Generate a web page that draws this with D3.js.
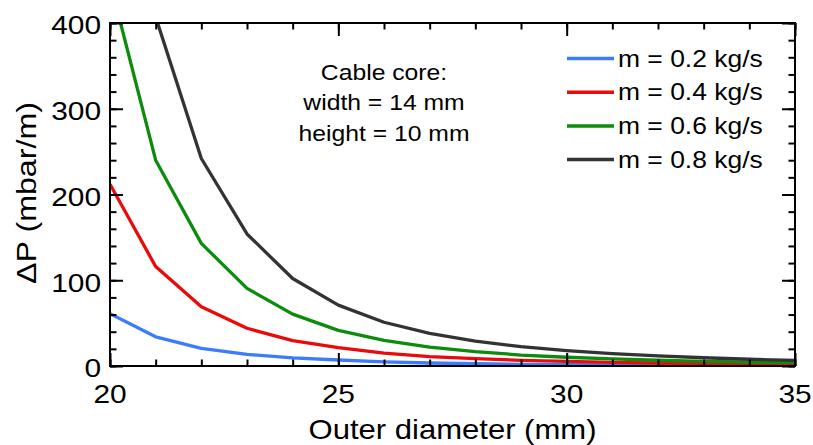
<!DOCTYPE html>
<html>
<head>
<meta charset="utf-8">
<script src="https://cdn.jsdelivr.net/npm/d3@7"></script>
<style>
  html, body { margin: 0; padding: 0; background: #fff; }
  svg { display: block; }
  text { font-family: "Liberation Sans", Arial, Helvetica, sans-serif; fill: #000; }
</style>
</head>
<body>
<svg id="chart" width="813" height="445"></svg>
<script>
// ---- Data ----
const diameters = [20, 21, 22, 23, 24, 25, 26, 27, 28, 29, 30, 31, 32, 33, 34, 35];
const dp_m02 = [61, 34, 20.5, 13.5, 9.5, 7, 4.8, 3.5, 2.6, 2.0, 1.6, 1.3, 1.05, 0.85, 0.7, 0.6];
const dp_m04 = [212, 116, 69, 44, 29.5, 21.5, 15, 11, 8.5, 6.6, 5.3, 4.3, 3.5, 2.9, 2.4, 2.0];
const dp_m06 = [448, 240, 143, 90.5, 60.5, 41.5, 30, 22, 16.7, 12.8, 10.2, 8.2, 6.7, 5.5, 4.6, 3.9];
const dp_m08 = [738, 407, 242, 154, 102, 71, 51, 38, 29, 22.5, 18, 14.5, 11.8, 9.6, 7.9, 6.5];
const seriesLabels = ["m = 0.2 kg/s", "m = 0.4 kg/s", "m = 0.6 kg/s", "m = 0.8 kg/s"];
const seriesColors = ["#3b7cff", "#ea0a0a", "#0c8c0c", "#333333"];
const xTickValues = [20, 25, 30, 35];
const yTickValues = [0, 100, 200, 300, 400];
const noteLines = ["Cable core:", "width = 14 mm", "height = 10 mm"];
const xTitle = "Outer diameter (mm)";
const yTitle = "\u0394P (mbar/m)";

const seriesValues = [dp_m02, dp_m04, dp_m06, dp_m08];

// ---- Layout ----
const L = 110, R = 795, T = 23, B = 366;
const SX = 1.15; // horizontal stretch of the reference's font
const svg = d3.select("#chart");

const x = d3.scaleLinear().domain([20, 35]).range([L, R]);
const y = d3.scaleLinear().domain([0, 400]).range([B, T]);

function stext(parent, px, py, str, size, anchor, rot) {
  const g = parent.append("g").attr("transform", `translate(${px},${py})` + (rot ? ` rotate(${rot})` : ""));
  g.append("text")
    .attr("transform", `scale(${SX},1)`)
    .attr("text-anchor", anchor)
    .style("font-size", size + "px")
    .text(str);
  return g;
}

// clip
svg.append("defs").append("clipPath").attr("id", "clip")
  .append("rect").attr("x", L).attr("y", T).attr("width", R - L).attr("height", B - T);

// data lines (drawn in legend order)
const line = d3.line().x((d, i) => x(diameters[i])).y(d => y(d));
const lines = svg.append("g").attr("clip-path", "url(#clip)");
seriesValues.forEach((vals, k) => {
  lines.append("path")
    .datum(vals)
    .attr("d", line)
    .attr("fill", "none")
    .attr("stroke", seriesColors[k])
    .attr("stroke-width", 3.3)
    .attr("stroke-linejoin", "round");
});

// axes with inward ticks
function styleAxis(g) {
  g.select(".domain").remove();
  g.selectAll(".tick line").attr("stroke", "#000").attr("stroke-width", 2);
  g.selectAll(".tick text").remove();
}
const minorX = d3.range(20, 36, 1);
const minorY = d3.range(0, 401, 20);

svg.append("g").attr("transform", `translate(0,${B})`)
  .call(d3.axisBottom(x).tickValues(minorX).tickSize(-6.5).tickFormat("")).call(styleAxis);
svg.append("g").attr("transform", `translate(0,${B})`)
  .call(d3.axisBottom(x).tickValues(xTickValues).tickSize(-13).tickFormat("")).call(styleAxis);
svg.append("g").attr("transform", `translate(0,${T})`)
  .call(d3.axisTop(x).tickValues(minorX).tickSize(-6.5).tickFormat("")).call(styleAxis);
svg.append("g").attr("transform", `translate(0,${T})`)
  .call(d3.axisTop(x).tickValues(xTickValues).tickSize(-13).tickFormat("")).call(styleAxis);
svg.append("g").attr("transform", `translate(${L},0)`)
  .call(d3.axisLeft(y).tickValues(minorY).tickSize(-6.5).tickFormat("")).call(styleAxis);
svg.append("g").attr("transform", `translate(${L},0)`)
  .call(d3.axisLeft(y).tickValues(yTickValues).tickSize(-13).tickFormat("")).call(styleAxis);
svg.append("g").attr("transform", `translate(${R},0)`)
  .call(d3.axisRight(y).tickValues(minorY).tickSize(-6.5).tickFormat("")).call(styleAxis);
svg.append("g").attr("transform", `translate(${R},0)`)
  .call(d3.axisRight(y).tickValues(yTickValues).tickSize(-13).tickFormat("")).call(styleAxis);

// frame
svg.append("rect").attr("x", L).attr("y", T).attr("width", R - L).attr("height", B - T)
  .attr("fill", "none").attr("stroke", "#000").attr("stroke-width", 2);

// tick labels
xTickValues.forEach(v => stext(svg, x(v), 403, String(v), 26, "middle"));
yTickValues.forEach(v => stext(svg, 101, y(v) + 11.3, String(v), 26, "end"));

// axis titles
stext(svg, (L + R) / 2, 438.5, xTitle, 27, "middle");
stext(svg, 36, 193, yTitle, 28, "middle", -90);

// annotation
noteLines.forEach((s, i) => stext(svg, 384, 79.5 + i * 30.5, s, 21.5, "middle"));

// legend
const legY0 = 58.5, legDY = 33.7;
seriesLabels.forEach((s, i) => {
  const ly = legY0 + i * legDY;
  svg.append("line").attr("x1", 567).attr("x2", 614).attr("y1", ly).attr("y2", ly)
    .attr("stroke", seriesColors[i]).attr("stroke-width", 3.5);
  stext(svg, 618, ly + 8.2, s, 23, "start");
});
</script>
</body>
</html>
